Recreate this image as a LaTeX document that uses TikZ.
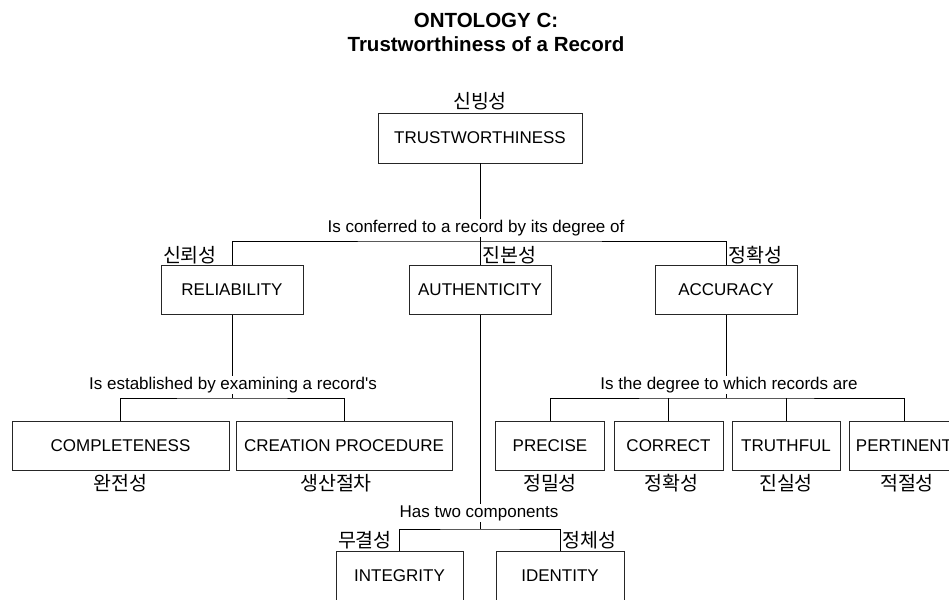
\documentclass[tikz,border=0pt]{standalone}
\usepackage{fontspec}
\setmainfont{Liberation Sans}
\newfontfamily\kor{Noto Sans CJK KR}
\usepackage{tikz}
\usetikzlibrary{calc,positioning}
\tikzset{
  every picture/.style={line width=0.9pt}
}

\begin{document}
\begin{tikzpicture}[x=1pt,y=-1pt,
        font=\fontsize{17}{20}\selectfont,
        box/.style={draw=black!85,minimum height=49,inner sep=0pt},
        kr/.style={font=\kor\fontsize{19.5}{21}\selectfont,inner sep=2pt},
        verb/.style={fill=white,inner sep=1pt},
        title/.style={font=\bfseries\fontsize{20.5}{24}\selectfont}]
        \useasboundingbox (0,0) rectangle (949,599);
        \clip (0,0) rectangle (949,599);

        \node (TT1) at (486, 20) [title] {ONTOLOGY C:};
        \node (TT2) at (486, 44) [title] {Trustworthiness of a Record};

        \node [label={[kr,label distance=0pt]90:신빙성}] (T) at (480,138) [box,minimum width=204,minimum height=50] {TRUSTWORTHINESS};

        \node [label={[kr,anchor=south west,yshift=-1pt]north west:신뢰성}] (REL) at (232,290) [box,minimum width=142] {RELIABILITY};
        \node [label={[kr,anchor=south west,yshift=-1pt]north:진본성}] (AUT) at (480,290) [box,minimum width=142] {AUTHENTICITY};
        \node [label={[kr,anchor=south west,yshift=-1pt]north:정확성}] (ACC) at (726,290) [box,minimum width=142] {ACCURACY};

        \node [label={[kr,label distance=1pt]below:완전성}] (COM) at (120.5,446) [box,minimum width=217] {COMPLETENESS};
        \node [label={[kr,label distance=1pt,xshift=-8pt]below:생산절차}] (CRE) at (344,446) [box,minimum width=216] {CREATION PROCEDURE};

        \node [label={[kr,label distance=1pt]below:정밀성}] (PRE) at (550,446) [box,minimum width=109] {PRECISE};
        \node [label={[kr,label distance=1pt,xshift=3pt]below:정확성}] (COR) at (668.5,446) [box,minimum width=109] {CORRECT};
        \node [label={[kr,label distance=1pt]below:진실성}] (TRU) at (786,446) [box,minimum width=108] {TRUTHFUL};
        \node [label={[kr,label distance=1pt,xshift=3pt]below:적절성}] (PER) at (904,446) [box,minimum width=110] {PERTINENT};

        \node [label={[kr,anchor=south west,yshift=-1pt]north west:무결성}] (INT) at (399.5,575.5) [box,minimum width=127] {INTEGRITY};
        \node [label={[kr,anchor=south west,yshift=-1pt]north:정체성}] (IDE) at (560,575.5) [box,minimum width=128] {IDENTITY};

        \coordinate (J1) at (480,241);
        \coordinate (J2) at (232,398);
        \coordinate (J3) at (726,398);
        \coordinate (J4) at (480,529);

        \draw (T) -- (AUT);
        \draw (REL) |- (J1) -| (ACC);

        \draw (REL) -- (J2);
        \draw (COM) |- (J2) -| (CRE);

        \draw (ACC) -- (J3);
        \draw (PRE) |- (J3) -| (PER);
        \draw (COR) -- (COR |- J3);
        \draw (TRU) -- (TRU |- J3);

        \draw (AUT) -- (J4);
        \draw (INT) |- (J4) -| (IDE);

        \node (V1) at (476,228) [verb] {Is conferred to a record by its degree of};
        \node (V2) at (233,385) [verb] {Is established by examining a record\textquotesingle s};
        \node (V3) at (729,385) [verb] {Is the degree to which records are};
        \node (V4) at (479,513) [verb] {Has two components};
    \end{tikzpicture}
\end{document}
